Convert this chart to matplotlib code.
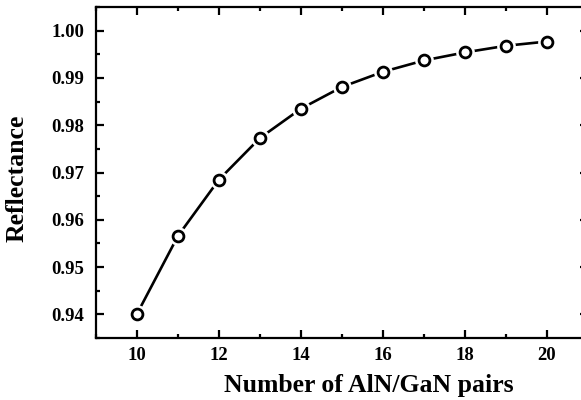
import matplotlib
matplotlib.use("Agg")
import matplotlib.pyplot as plt
from matplotlib.ticker import MultipleLocator

pairs = [10, 11, 12, 13, 14, 15, 16, 17, 18, 19, 20]
reflectance = [0.9401, 0.9566, 0.9685, 0.9773, 0.9835, 0.9881, 0.9913, 0.9937, 0.9954, 0.9968, 0.9977]
xticks = [10, 12, 14, 16, 18, 20]
yticks = [0.94, 0.95, 0.96, 0.97, 0.98, 0.99, 1.00]
ytick_labels = ["0.94", "0.95", "0.96", "0.97", "0.98", "0.99", "1.00"]

plt.rcParams['font.family'] = ['Liberation Serif', 'DejaVu Serif']
plt.rcParams['font.weight'] = 'bold'

fig = plt.figure(figsize=(5.81, 4.0), dpi=100)
ax = fig.add_axes([96/581, 62/400, 492/581, 331/400])

ax.plot(pairs, reflectance, color='black', lw=1.9, zorder=2)
ax.plot(pairs, reflectance, ls='none', marker='o', ms=13.5, mfc='white', mec='white', mew=0, zorder=3)
ax.plot(pairs, reflectance, ls='none', marker='o', ms=7.8, mfc='white', mec='black', mew=2.0, zorder=4)

ax.set_xlim(9, 21)
ax.set_ylim(0.935, 1.005)
ax.set_xticks(xticks)
ax.set_xticklabels([str(v) for v in xticks])
ax.set_yticks(yticks)
ax.set_yticklabels(ytick_labels)
ax.xaxis.set_minor_locator(MultipleLocator(1))
ax.yaxis.set_minor_locator(MultipleLocator(0.005))

for s in ax.spines.values():
    s.set_linewidth(1.6)
ax.tick_params(which='both', direction='in', top=True, right=True, width=1.6, labelsize=13.5)
ax.tick_params(axis='y', pad=8.5)
ax.tick_params(axis='x', pad=6.5)
ax.tick_params(which='major', length=5.5)
ax.tick_params(which='minor', length=3)

ax.set_xlabel('Number of AlN/GaN pairs', fontsize=18.5, fontweight='bold', va='baseline')
ax.set_ylabel('Reflectance', fontsize=18.5, fontweight='bold', va='baseline')
ax.xaxis.set_label_coords(0.554, (338 - 392) / 331)
ax.yaxis.set_label_coords((24 - 96) / 492, 0.482)

fig.savefig('out.png', dpi=100)
